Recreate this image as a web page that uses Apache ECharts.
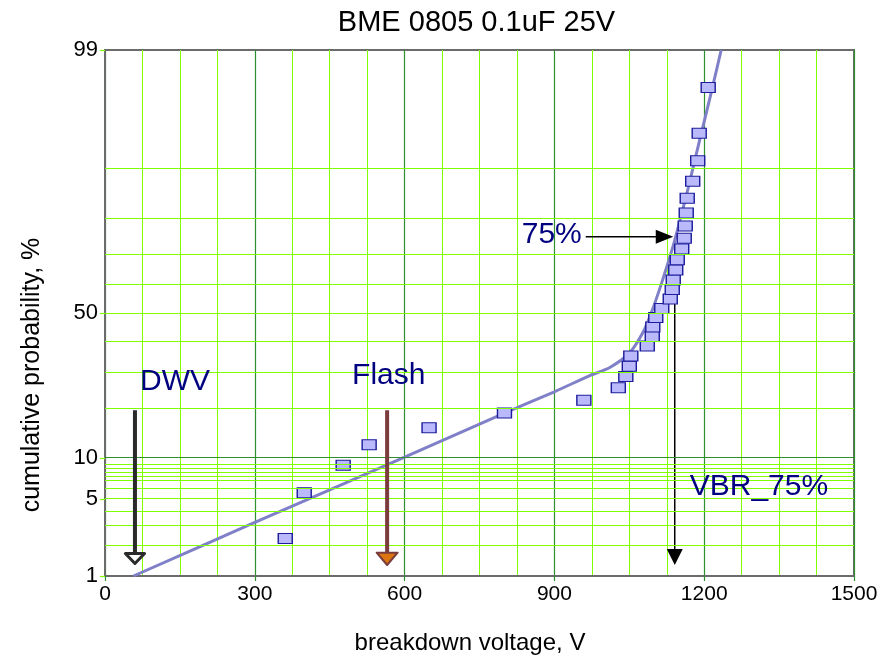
<!DOCTYPE html>
<html>
<head>
<meta charset="utf-8">
<script src="https://cdn.jsdelivr.net/npm/echarts@6/dist/echarts.min.js"></script>
<style>
  html, body { margin: 0; padding: 0; background: #ffffff; }
  #chart { width: 892px; height: 657px; }
</style>
</head>
<body>
<div id="chart"></div>
<script>
// Breakdown voltages of the tested parts (V) and their cumulative probability (%)
const breakdownVoltage = [361, 399, 477, 529, 649, 800, 959, 1028, 1043, 1050,
  1053, 1086, 1096, 1097, 1103, 1115, 1132, 1136, 1138, 1143,
  1146, 1155, 1160, 1162, 1164, 1166, 1177, 1187, 1190, 1208];
const cumulativePercent = [2.3, 5.6, 8.9, 12.2, 15.5, 18.8, 22.0, 25.4, 28.7, 31.9,
  35.2, 38.5, 41.8, 45.1, 48.4, 51.6, 54.9, 58.2, 61.5, 64.8,
  68.1, 71.4, 74.6, 77.9, 81.2, 84.5, 87.8, 91.1, 94.4, 97.7];

// Fitted distribution curve (V, %)
const fitVoltage = [57, 300, 600, 800, 900, 971, 1011, 1051, 1078, 1095, 1115, 1135, 1143, 1168, 1190, 1212, 1234];
const fitPercent = [1.0, 3.2, 10.1, 18.8, 24.3, 29.0, 31.5, 36.3, 43.4, 50.5, 60.6, 70.9, 75.0, 86.6, 93.5, 97.2, 99.0];

// Probability axis: labelled values and grid lines (%)
const yLabelPercents = [1, 5, 10, 50, 99];
const yGridPercents = [2, 3, 4, 5, 6, 7, 7.5, 8, 8.5, 9, 20, 30, 40, 50, 60, 70, 80, 90];
const yMajorGridPercents = [10];

// Voltage axis
const xMin = 0, xMax = 1500, xInterval = 300;

// Marked voltages
const dwvVoltage = 60;
const flashVoltage = 565;
const vbr75Voltage = 1141;
const vbrPercent = 75;

// Annotation layout
const arrowTopPercent = 19.5;

const FONT = "'Liberation Sans', Arial, sans-serif";
const NAVY = '#000080';
const GRID_MINOR = '#80ff00';
const GRID_MAJOR = '#2f8f2f';
const FRAME = '#6b6b6b';

// Inverse standard normal CDF (Acklam) - the probability-paper scale
function probit(p) {
  const a = [-3.969683028665376e+01, 2.209460984245205e+02, -2.759285104469687e+02, 1.383577518672690e+02, -3.066479806614716e+01, 2.506628277459239e+00];
  const b = [-5.447609879822406e+01, 1.615858368580409e+02, -1.556989798598866e+02, 6.680131188771972e+01, -1.328068155288572e+01];
  const c = [-7.784894002430293e-03, -3.223964580411365e-01, -2.400758277161838e+00, -2.549732539343734e+00, 4.374664141464968e+00, 2.938163982698783e+00];
  const d = [7.784695709041462e-03, 3.224671290700398e-01, 2.445134137142996e+00, 3.754408661907416e+00];
  const pl = 0.02425, ph = 1 - pl;
  let q, r;
  if (p < pl) {
    q = Math.sqrt(-2 * Math.log(p));
    return (((((c[0]*q+c[1])*q+c[2])*q+c[3])*q+c[4])*q+c[5]) / ((((d[0]*q+d[1])*q+d[2])*q+d[3])*q+1);
  }
  if (p <= ph) {
    q = p - 0.5; r = q * q;
    return (((((a[0]*r+a[1])*r+a[2])*r+a[3])*r+a[4])*r+a[5])*q / (((((b[0]*r+b[1])*r+b[2])*r+b[3])*r+b[4])*r+1);
  }
  q = Math.sqrt(-2 * Math.log(1 - p));
  return -(((((c[0]*q+c[1])*q+c[2])*q+c[3])*q+c[4])*q+c[5]) / ((((d[0]*q+d[1])*q+d[2])*q+d[3])*q+1);
}
const zOf = pct => probit(pct / 100);

const yMin = zOf(yLabelPercents[0]);
const yMax = zOf(yLabelPercents[yLabelPercents.length - 1]);

function percentLabel(v) {
  let best = 0;
  yLabelPercents.forEach((p, i) => {
    if (Math.abs(zOf(p) - v) < Math.abs(zOf(yLabelPercents[best]) - v)) best = i;
  });
  return String(yLabelPercents[best]);
}

const gridLines = [
  ...yGridPercents.map(p => ({ yAxis: zOf(p), lineStyle: { color: GRID_MINOR, width: 1, type: 'solid' } })),
  ...yMajorGridPercents.map(p => ({ yAxis: zOf(p), lineStyle: { color: GRID_MAJOR, width: 1.2, type: 'solid' } }))
];

const chart = echarts.init(document.getElementById('chart'), null, { renderer: 'canvas' });

chart.setOption({
  animation: false,
  backgroundColor: '#ffffff',
  title: {
    text: 'BME 0805 0.1uF 25V',
    left: 471.5,
    top: 3,
    textAlign: 'center',
    textStyle: { fontFamily: FONT, fontSize: 29, fontWeight: 'normal', color: '#000000' }
  },
  grid: {
    left: 105, right: 38, top: 50, bottom: 81,
    show: true, borderColor: FRAME, borderWidth: 2, backgroundColor: '#ffffff'
  },
  xAxis: {
    type: 'value',
    min: xMin, max: xMax, interval: xInterval,
    axisLine: { show: true, onZero: false, lineStyle: { color: FRAME, width: 2 } },
    axisTick: { show: true, length: 5, lineStyle: { color: GRID_MAJOR, width: 1.2 } },
    axisLabel: { margin: 8, fontFamily: FONT, fontSize: 21, color: '#000000', formatter: v => String(v) },
    splitLine: { show: true, lineStyle: { color: GRID_MAJOR, width: 1.2 } },
    minorTick: { show: false, splitNumber: 4 },
    minorSplitLine: { show: true, lineStyle: { color: GRID_MINOR, width: 1 } }
  },
  yAxis: {
    type: 'value',
    min: yMin, max: yMax,
    axisLine: { show: true, onZero: false, lineStyle: { color: FRAME, width: 2 } },
    axisTick: { show: true, length: 5, customValues: yLabelPercents.map(zOf), lineStyle: { color: GRID_MINOR, width: 1.2 } },
    axisLabel: {
      margin: 7, fontFamily: FONT, fontSize: 22, color: '#000000',
      customValues: yLabelPercents.map(zOf),
      formatter: percentLabel
    },
    splitLine: { show: false }
  },
  series: [
    {
      name: 'grid',
      type: 'line',
      z: 1,
      silent: true,
      data: [[xMin, yMin]],
      showSymbol: false,
      symbol: 'none',
      lineStyle: { opacity: 0 },
      markLine: {
        silent: true,
        symbol: ['none', 'none'],
        label: { show: false },
        emphasis: { disabled: true },
        animation: false,
        data: gridLines
      }
    },
    {
      name: 'fit',
      type: 'line',
      z: 3,
      silent: true,
      smooth: 0.25,
      symbol: 'none',
      lineStyle: { color: '#8080c8', width: 3 },
      data: fitVoltage.map((v, i) => [v, zOf(fitPercent[i])])
    },
    {
      name: 'breakdown',
      type: 'scatter',
      z: 4,
      symbol: 'rect',
      symbolSize: [14, 10],
      itemStyle: { color: '#b9b9fb', borderColor: '#1c1c9c', borderWidth: 1.2, opacity: 1 },
      data: breakdownVoltage.map((v, i) => [v, zOf(cumulativePercent[i])])
    }
  ]
});

// Arrows and annotation texts, placed through the chart's own coordinate conversion
const toPx = (v, pct) => chart.convertToPixel({ gridIndex: 0 }, [v, zOf(pct)]);
const plotBottom = toPx(xMin, yLabelPercents[0])[1];
const arrowTopY = toPx(xMin, arrowTopPercent)[1];
const tipY = plotBottom - 11;

const xDwv = toPx(dwvVoltage, 1)[0];
const xFlash = toPx(flashVoltage, 1)[0];
const [xVbr, yVbr] = toPx(vbr75Voltage, vbrPercent);

const textStyle = (text, x, y, align, size, color) => ({
  type: 'text', x, y, z: 20, silent: true,
  style: { text, fontFamily: FONT, fontSize: size, fill: color, align, verticalAlign: 'middle' }
});

const graphic = [
  // DWV arrow (hollow head)
  { type: 'line', z: 10, silent: true, shape: { x1: xDwv, y1: arrowTopY, x2: xDwv, y2: tipY - 12 }, style: { stroke: '#2a2a2a', lineWidth: 4 } },
  { type: 'polygon', z: 11, silent: true, shape: { points: [[xDwv - 9.6, tipY - 11.5], [xDwv + 9.6, tipY - 11.5], [xDwv, tipY - 1.5]] }, style: { fill: '#ffffff', stroke: '#2a2a2a', lineWidth: 3, lineJoin: 'round' } },
  textStyle('DWV', xDwv + 5, arrowTopY - 28, 'left', 30, NAVY),

  // Flash arrow (orange head)
  { type: 'line', z: 10, silent: true, shape: { x1: xFlash, y1: arrowTopY, x2: xFlash, y2: tipY - 12 }, style: { stroke: '#7a3c3c', lineWidth: 4 } },
  { type: 'polygon', z: 11, silent: true, shape: { points: [[xFlash - 10.5, tipY - 12.3], [xFlash + 10.5, tipY - 12.3], [xFlash, tipY]] }, style: { fill: '#dc7410', stroke: '#7a3c3c', lineWidth: 2, lineJoin: 'round' } },
  textStyle('Flash', xFlash - 35, arrowTopY - 34, 'left', 30, NAVY),

  // 75% level arrow pointing at the fit curve
  { type: 'line', z: 10, silent: true, shape: { x1: xVbr - 89, y1: yVbr, x2: xVbr - 18, y2: yVbr }, style: { stroke: '#000000', lineWidth: 1.5 } },
  { type: 'polygon', z: 11, silent: true, shape: { points: [[xVbr - 19, yVbr - 7], [xVbr - 19, yVbr + 7], [xVbr - 1.5, yVbr]] }, style: { fill: '#000000' } },
  textStyle('75%', xVbr - 93, yVbr - 2, 'right', 30, NAVY),

  // VBR at 75% dropped to the voltage axis
  { type: 'line', z: 2, silent: true, shape: { x1: xVbr, y1: yVbr, x2: xVbr, y2: tipY - 15 }, style: { stroke: '#000000', lineWidth: 1.5 } },
  { type: 'polygon', z: 11, silent: true, shape: { points: [[xVbr - 8, tipY - 16], [xVbr + 8, tipY - 16], [xVbr, tipY]] }, style: { fill: '#000000' } },
  textStyle('VBR_75%', xVbr + 15, plotBottom - 89, 'left', 30, NAVY),

  // Axis titles
  textStyle('breakdown voltage, V', 470, 643, 'center', 24, '#000000'),
  Object.assign(textStyle('cumulative probability, %', 32, 375, 'center', 25, '#000000'), { rotation: Math.PI / 2 })
];

chart.setOption({ graphic });
</script>
</body>
</html>
